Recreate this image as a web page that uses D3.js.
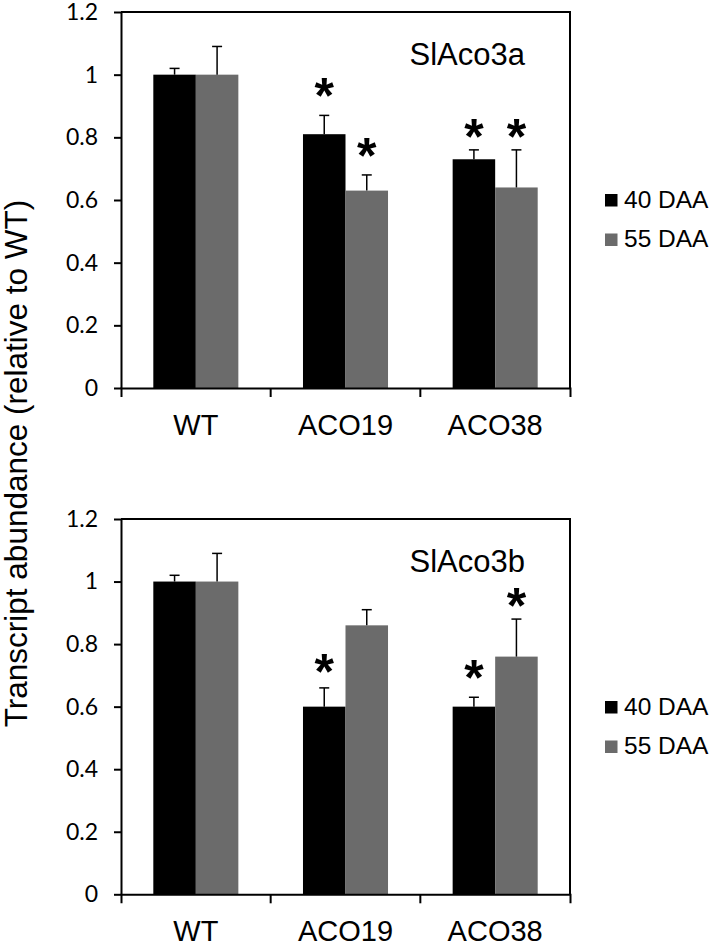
<!DOCTYPE html>
<html>
<head>
<meta charset="utf-8">
<script src="https://cdn.jsdelivr.net/npm/d3@7"></script>
<style>
  body { margin: 0; background: #fff; }
</style>
</head>
<body>
<div id="chart-container"></div>
<script>
// data
const categories = ["WT", "ACO19", "ACO38"];
const series = ["40 DAA", "55 DAA"];
const yTicks = [0, 0.2, 0.4, 0.6, 0.8, 1, 1.2];

// SlAco3a
const aco3a40 = [1.00, 0.81, 0.73];
const aco3a55 = [1.00, 0.63, 0.64];
const err3a40 = [0.02, 0.06, 0.03];
const err3a55 = [0.09, 0.05, 0.12];
// height (in y units) where the significance star sits, null = no star
const star3a40 = [null, 0.96, 0.83];
const star3a55 = [null, 0.77, 0.83];

// SlAco3b
const aco3b40 = [1.00, 0.60, 0.60];
const aco3b55 = [1.00, 0.86, 0.76];
const err3b40 = [0.02, 0.06, 0.03];
const err3b55 = [0.09, 0.05, 0.12];
const star3b40 = [null, 0.74, 0.72];
const star3b55 = [null, null, 0.95];

const width = 717;
const height = 944;
const colors = ["#000000", "#6b6b6b"];

const svg = d3.select("#chart-container")
    .append("svg")
    .attr("width", width)
    .attr("height", height);

const left = 121, right = 570;

const x0 = d3.scaleBand()
    .domain(categories)
    .range([left, right])
    .padding(0);

const x1 = d3.scaleBand()
    .domain(series)
    .range([0, x0.bandwidth()])
    .paddingInner(0)
    .paddingOuter(0.76);

const color = d3.scaleOrdinal().domain(series).range(colors);

function panel(top, bottom, title, v40, v55, e40, e55, s40, s55) {
    const y = d3.scaleLinear().domain([0, 1.2]).range([bottom, top]);
    const g = svg.append("g");

    const rows = categories.map((c, i) => ({
        cat: c,
        items: [
            { s: series[0], v: v40[i], e: e40[i], star: s40[i] },
            { s: series[1], v: v55[i], e: e55[i], star: s55[i] }
        ]
    }));

    const grp = g.selectAll(".grp")
        .data(rows)
        .enter()
        .append("g")
        .attr("transform", d => `translate(${x0(d.cat)},0)`);

    // bars
    grp.selectAll("rect")
        .data(d => d.items)
        .enter()
        .append("rect")
        .attr("x", d => x1(d.s))
        .attr("y", d => y(d.v))
        .attr("width", x1.bandwidth())
        .attr("height", d => y(0) - y(d.v))
        .attr("fill", d => color(d.s));

    // error bars (upper half only)
    const eb = grp.selectAll(".eb")
        .data(d => d.items)
        .enter()
        .append("g")
        .attr("stroke", "#000")
        .attr("stroke-width", 1.5);
    eb.append("line")
        .attr("x1", d => x1(d.s) + x1.bandwidth() / 2)
        .attr("x2", d => x1(d.s) + x1.bandwidth() / 2)
        .attr("y1", d => y(d.v))
        .attr("y2", d => y(d.v + d.e));
    eb.append("line")
        .attr("x1", d => x1(d.s) + x1.bandwidth() / 2 - 5)
        .attr("x2", d => x1(d.s) + x1.bandwidth() / 2 + 5)
        .attr("y1", d => y(d.v + d.e))
        .attr("y2", d => y(d.v + d.e));

    // significance stars (glyph centre is ~26px above baseline)
    grp.selectAll(".star")
        .data(d => d.items.filter(it => it.star != null))
        .enter()
        .append("text")
        .attr("x", d => x1(d.s) + x1.bandwidth() / 2)
        .attr("y", d => y(d.star) + 26)
        .attr("text-anchor", "middle")
        .attr("font-family", "Liberation Sans, Arial, sans-serif")
        .attr("font-weight", "bold")
        .attr("font-size", "50px")
        .attr("fill", "#000")
        .text("*");

    // y axis
    const yAxis = g.append("g")
        .attr("transform", `translate(${left},0)`)
        .call(d3.axisLeft(y).tickValues(yTicks).tickSize(7).tickSizeOuter(0).tickPadding(16)
            .tickFormat(d => String(d)));
    yAxis.select(".domain").attr("stroke-width", 2);
    yAxis.selectAll(".tick line").attr("stroke-width", 2);
    yAxis.selectAll("text")
        .attr("font-family", "Lato, sans-serif")
        .attr("font-size", "23px")
        .attr("fill", "#000");

    // x axis, ticks between categories
    const xAxis = g.append("g")
        .attr("transform", `translate(0,${bottom})`)
        .call(d3.axisBottom(x0).tickSizeInner(0).tickSizeOuter(9).tickPadding(26));
    xAxis.select(".domain").attr("stroke-width", 2);
    xAxis.selectAll("text")
        .attr("font-family", "Liberation Sans, Arial, sans-serif")
        .attr("font-size", "29px")
        .attr("fill", "#000");
    xAxis.selectAll(".sep")
        .data(categories.slice(1))
        .enter()
        .append("line")
        .attr("x1", d => x0(d))
        .attr("x2", d => x0(d))
        .attr("y1", 0)
        .attr("y2", 9)
        .attr("stroke", "#000")
        .attr("stroke-width", 2);

    // top and right border of the plot area
    g.append("path")
        .attr("d", `M${left},${top}H${right}V${bottom}`)
        .attr("fill", "none")
        .attr("stroke", "#000")
        .attr("stroke-width", 2);

    // gene name
    g.append("text")
        .attr("x", 525)
        .attr("y", top + 53)
        .attr("text-anchor", "end")
        .attr("font-family", "Liberation Sans, Arial, sans-serif")
        .attr("font-size", "31px")
        .attr("fill", "#000")
        .text(title);

    // legend
    const leg = g.selectAll(".leg")
        .data(series)
        .enter()
        .append("g")
        .attr("transform", (d, i) => `translate(605,${top + 195.5 + i * 39.5})`);
    leg.append("rect")
        .attr("x", 0)
        .attr("y", -13.5)
        .attr("width", 12.5)
        .attr("height", 12.5)
        .attr("fill", d => color(d));
    leg.append("text")
        .attr("x", 19)
        .attr("y", 0)
        .attr("font-family", "Liberation Sans, Arial, sans-serif")
        .attr("font-size", "24.5px")
        .attr("fill", "#000")
        .text(d => d);
}

panel(12, 388, "SlAco3a", aco3a40, aco3a55, err3a40, err3a55, star3a40, star3a55);
panel(519, 894.3, "SlAco3b", aco3b40, aco3b55, err3b40, err3b55, star3b40, star3b55);

// shared y axis title
svg.append("text")
    .attr("transform", "translate(27,463.5) rotate(-90)")
    .attr("text-anchor", "middle")
    .attr("font-family", "Liberation Sans, Arial, sans-serif")
    .attr("font-size", "31.5px")
    .attr("fill", "#000")
    .text("Transcript abundance (relative to WT)");
</script>
</body>
</html>
